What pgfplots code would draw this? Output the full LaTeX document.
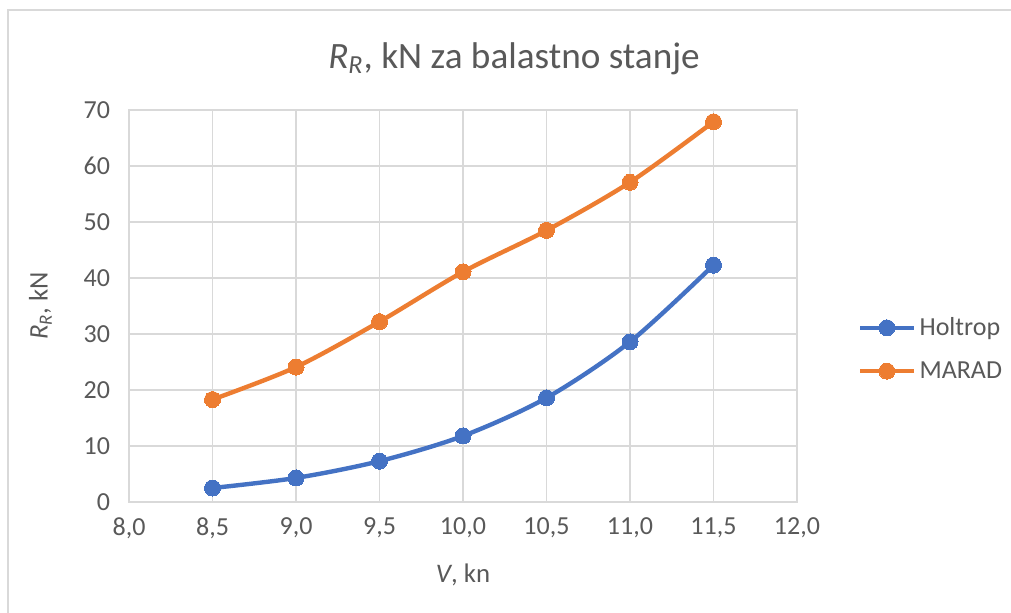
\documentclass[border=0pt]{standalone}
\usepackage{pgfplots}
\pgfplotsset{compat=1.18}
\usepackage{fontspec}
\setmainfont{Carlito}
\definecolor{txt}{HTML}{595959}
\definecolor{gridc}{HTML}{D9D9D9}
\definecolor{xblue}{HTML}{4472C4}
\definecolor{xorange}{HTML}{ED7D31}
\begin{document}
\begin{tikzpicture}
\fill[white] (0,0) rectangle (505.5pt,-306pt);
\draw[gridc, line width=1pt] (4pt,-310pt) -- (4pt,-5pt) -- (510pt,-5pt);
\node[txt, font=\fontsize{18.6pt}{20pt}\selectfont, anchor=base] at (257pt,-34pt) {\textit{R}\textsubscript{\textit{R}}, kN za balastno stanje};
\begin{axis}[
  at={(64.5pt,-251pt)}, anchor=south west,
  scale only axis, width=334pt, height=196pt,
  xmin=8, xmax=12, ymin=0, ymax=70,
  xtick={8,8.5,...,12}, ytick={0,10,...,70},
  grid=major,
  major grid style={gridc, line width=0.75pt},
  axis line style={gridc, line width=0.75pt},
  major tick length=0pt,
  tick label style={txt, font=\fontsize{13pt}{15pt}\selectfont},
  /pgf/number format/assume math mode=true,
  xticklabel style={/pgf/number format/use comma, /pgf/number format/fixed, /pgf/number format/fixed zerofill, /pgf/number format/precision=1, yshift=-4.5pt},
  yticklabel style={xshift=-6pt},
  xlabel={\textit{V}, kn},
  ylabel={\textit{R}\textsubscript{\textit{R}}, kN},
  label style={txt, font=\fontsize{13.4pt}{15pt}\selectfont},
  xlabel style={yshift=-5.5pt},
  ylabel style={yshift=9pt},
  legend style={at={(1.082,0.39)}, anchor=west, draw=none, fill=none,
    font=\fontsize{13pt}{15pt}\selectfont, text=txt, row sep=7.5pt,
    /tikz/every even column/.append style={column sep=1pt}},
  legend cell align=left,
  legend image code/.code={
    \draw[#1, mark repeat=2, mark phase=2] plot coordinates {(0pt,0pt) (13.25pt,0pt) (26.5pt,0pt)};
  },
]
\addplot[xblue, line width=2.2pt, smooth, mark=*, mark size=4pt, mark options={solid, fill=xblue, draw=xblue, line width=0pt}]
  coordinates {(8.5,2.5) (9.0,4.3) (9.5,7.3) (10.0,11.8) (10.5,18.6) (11.0,28.6) (11.5,42.3)};
\addlegendentry{Holtrop}
\addplot[xorange, line width=2.2pt, smooth, mark=*, mark size=4pt, mark options={solid, fill=xorange, draw=xorange, line width=0pt}]
  coordinates {(8.5,18.3) (9.0,24.1) (9.5,32.2) (10.0,41.1) (10.5,48.5) (11.0,57.1) (11.5,67.9)};
\addlegendentry{MARAD}
\end{axis}
\pgfresetboundingbox
\path (0,0) rectangle (505.5pt,-306pt);
\end{tikzpicture}
\end{document}
